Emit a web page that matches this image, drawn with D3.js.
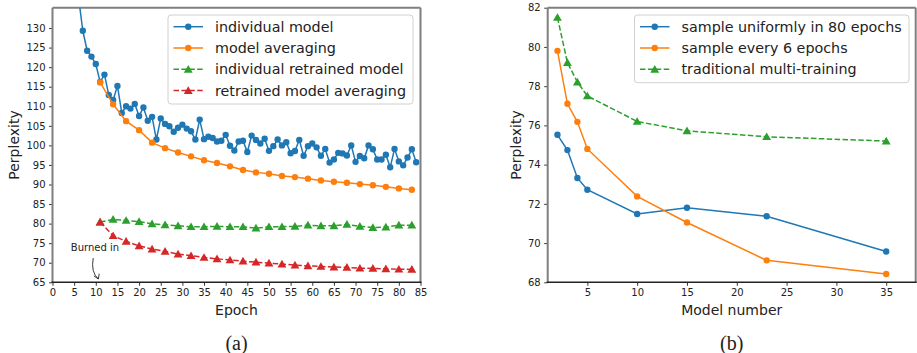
<!DOCTYPE html>
<html>
<head>
<meta charset="utf-8">
<script src="https://cdn.jsdelivr.net/npm/d3@7"></script>
<style>
body { margin: 0; background: #fff; }
text { font-family: 'DejaVu Sans', sans-serif; fill: #222; }
</style>
</head>
<body>
<svg id="fig" width="917" height="353"></svg>
<script>
// ---- data (a): perplexity per epoch
const epochs = [6,7,8,9,10,11,12,13,14,15,16,17,18,19,20,21,22,23,24,25,26,27,28,29,30,
  31,32,33,34,35,36,37,38,39,40,41,42,43,44,45,46,47,48,49,50,51,52,53,54,55,56,57,58,59,60,
  61,62,63,64,65,66,67,68,69,70,71,72,73,74,75,76,77,78,79,80,81,82,83,84]
const individual = [138,129.3,124.2,122.7,120.8,116.2,118.1,112.9,111.6,115.2,108.3,110.0,109.4,110.6,107.5,
  109.7,106.3,107.3,101.5,106.9,105.5,104.9,103.5,104.5,105.3,104.3,103.6,101.5,106.6,101.6,
  102.2,101.9,101.0,101.2,102.7,99.9,98.7,101.0,101.2,98.3,102.5,101.4,100.5,101.7,98.6,
  99.8,101.5,100.0,100.8,98.0,98.55,101.4,97.35,99.8,100.5,99.5,97.35,99.1,95.6,96.4,
  98.1,97.95,97.4,100.0,95.8,97.3,96.7,100.0,99.0,96.4,96.4,97.6,94.4,99.1,95.9,94.9,96.9,99.0,95.7]
const avgEpochs = [11,14,17,20,23,26,29,32,35,38,41,44,47,50,53,56,59,62,65,68,71,74,77,80,83]
const averaging = [116.1,110.5,106.2,103.9,100.7,99.3,98.2,97.2,96.2,95.5,94.65,93.7,93.1,92.75,92.2,
  91.9,91.5,91.05,90.7,90.45,90.1,89.8,89.4,89.0,88.65]
const retrained = [80.4,81.07,80.8,80.5,79.95,79.7,79.45,79.2,79.2,79.3,79.2,79.2,78.85,79.2,79.2,
  79.3,79.6,79.45,79.45,79.8,79.3,79.0,79.1,79.6,79.6]
const retrainedAvg = [80.4,76.9,75.45,74.3,73.5,72.9,72.2,71.8,71.35,71.0,70.7,70.4,70.15,69.9,69.65,
  69.4,69.2,69.05,68.9,68.8,68.6,68.55,68.45,68.35,68.3]
const epochTicks = [0,5,10,15,20,25,30,35,40,45,50,55,60,65,70,75,80,85]
const perpTicksA = [65,70,75,80,85,90,95,100,105,110,115,120,125,130]
const legendA = ['individual model', 'model averaging', 'individual retrained model', 'retrained model averaging']
// annotation: [text x, text y, arrow start x, arrow start y, arrow tip x, arrow tip y] in data units
const burnedIn = [9.8, 73.9, 9.4, 71.2, 10.6, 65.85]

// ---- data (b): perplexity per number of models
const modelNumbers = [2,3,4,5,10,15,23,35]
const uniform80 = [75.52,74.74,73.32,72.72,71.48,71.8,71.37,69.57]
const every6 = [79.8,77.1,76.18,74.8,72.38,71.05,69.12,68.42]
const multiTraining = [81.5,79.2,78.21,77.5,76.2,75.72,75.42,75.2]
const modelTicks = [5,10,15,20,25,30,35]
const perpTicksB = [68,70,72,74,76,78,80,82]
const legendB = ['sample uniformly in 80 epochs', 'sample every 6 epochs', 'traditional multi-training']

const blue = '#1f77b4', orange = '#ff7f0e', green = '#2ca02c', red = '#d62728'
const svg = d3.select('#fig')
const defs = svg.append('defs')

function panel (id, xDomain, xRange, yDomain, yRange, xTicks, yTicks, xLabel, yLabelX, caption)
{
    let x = d3.scaleLinear().domain(xDomain).range(xRange)
    let y = d3.scaleLinear().domain(yDomain).range(yRange)
    let g = svg.append('g')
    defs.append('clipPath').attr('id', id)
        .append('rect')
        .attr('x', xRange[0]).attr('y', yRange[1])
        .attr('width', xRange[1] - xRange[0]).attr('height', yRange[0] - yRange[1])
    //axes
    let xAxis = d3.axisBottom(x).tickValues(xTicks).tickSize(3.5).tickPadding(3.5)
    let yAxis = d3.axisLeft(y).tickValues(yTicks).tickSize(3.5).tickPadding(3.5)
    g.append('g').attr('transform', `translate(0, ${yRange[0]})`).call(xAxis)
    g.append('g').attr('transform', `translate(${xRange[0]}, 0)`).call(yAxis)
    g.selectAll('.domain').remove()
    g.selectAll('.tick line').attr('stroke', '#222').attr('stroke-width', 0.9)
    g.selectAll('.tick text').style('font-size', '10px').attr('fill', '#222')
        .style('font-family', "'DejaVu Sans', sans-serif")
    //spines
    let spines = g.append('g')
    spines.append('line').attr('x1', xRange[0]).attr('x2', xRange[1]).attr('y1', yRange[1]).attr('y2', yRange[1])
        .attr('stroke', '#7f7f7f').attr('stroke-width', 2)
    spines.append('line').attr('x1', xRange[0]).attr('x2', xRange[0]).attr('y1', yRange[0]).attr('y2', yRange[1])
        .attr('stroke', '#7f7f7f').attr('stroke-width', 2)
    spines.append('line').attr('x1', xRange[1]).attr('x2', xRange[1]).attr('y1', yRange[0]).attr('y2', yRange[1])
        .attr('stroke', '#7f7f7f').attr('stroke-width', 2)
    spines.append('line').attr('x1', xRange[0] - 1).attr('x2', xRange[1] + 1).attr('y1', yRange[0]).attr('y2', yRange[0])
        .attr('stroke', '#222').attr('stroke-width', 1.6)
    //labels
    let cx = (xRange[0] + xRange[1]) / 2
    g.append('text').attr('x', cx).attr('y', 315).attr('text-anchor', 'middle')
        .style('font-size', '14px').text(xLabel)
    g.append('text').attr('transform', `translate(${yLabelX}, ${(yRange[0] + yRange[1]) / 2}) rotate(-90)`)
        .attr('text-anchor', 'middle').style('font-size', '14px').text('Perplexity')
    g.append('text').attr('x', cx).attr('y', 350).attr('text-anchor', 'middle')
        .style('font-size', '20px').style('font-family', "'Liberation Serif', serif")
        .text(caption)
    let plot = g.append('g').attr('clip-path', `url(#${id})`)
    return {x: x, y: y, g: g, plot: plot}
}

function series (p, xs, ys, color, dashed, marker)
{
    let line = d3.line().x((d, i) => p.x(xs[i])).y(d => p.y(d))
    p.plot.append('path')
        .attr('d', line(ys))
        .attr('fill', 'none')
        .attr('stroke', color)
        .attr('stroke-width', 1.5)
        .attr('stroke-dasharray', dashed ? '5.5,2.4' : null)
    let sym = marker == 'tri' ? d3.symbol(d3.symbolTriangle, 34) : d3.symbol(d3.symbolCircle, 32)
    p.plot.selectAll(null)
        .data(ys)
        .enter()
        .append('path')
        .attr('transform', (d, i) => `translate(${p.x(xs[i])}, ${p.y(d) + (marker == 'tri' ? 0.8 : 0)})`)
        .attr('d', sym)
        .attr('fill', color)
}

function legend (p, box, labels, colors, dashes, markers)
{
    let lg = p.g.append('g')
    lg.append('rect')
        .attr('x', box[0]).attr('y', box[1]).attr('width', box[2]).attr('height', box[3])
        .attr('rx', 3).attr('fill', 'white').attr('fill-opacity', 0.8)
        .attr('stroke', '#d0d0d0').attr('stroke-width', 1)
    labels.forEach(function (lab, i) {
        let yy = box[1] + 11.7 + i * 21.3
        let x0 = box[0] + 5.5
        lg.append('line').attr('x1', x0).attr('x2', x0 + 29.5).attr('y1', yy).attr('y2', yy)
            .attr('stroke', colors[i]).attr('stroke-width', 1.5)
            .attr('stroke-dasharray', dashes[i] ? '5.5,2.4' : null)
        let sym = markers[i] == 'tri' ? d3.symbol(d3.symbolTriangle, 34) : d3.symbol(d3.symbolCircle, 32)
        lg.append('path').attr('d', sym)
            .attr('transform', `translate(${x0 + 14.75}, ${yy + (markers[i] == 'tri' ? 0.8 : 0)})`)
            .attr('fill', colors[i])
        lg.append('text').attr('x', x0 + 41.5).attr('y', yy).attr('dy', '0.36em')
            .style('font-size', '14.3px').text(lab)
    })
}

// ---- panel (a)
let pa = panel('clipA', [0, 85], [52.5, 420.5], [65, 135.2], [282.3, 7.7],
               epochTicks, perpTicksA, 'Epoch', 19, '(a)')
series(pa, epochs, individual, blue, false, 'circle')
series(pa, avgEpochs, averaging, orange, false, 'circle')
series(pa, avgEpochs, retrained, green, true, 'tri')
series(pa, avgEpochs, retrainedAvg, red, true, 'tri')
legend(pa, [168, 15, 245, 89], legendA, [blue, orange, green, red],
       [false, false, true, true], ['circle', 'circle', 'tri', 'tri'])

// annotation "Burned in"
pa.g.append('text')
    .attr('x', pa.x(burnedIn[0])).attr('y', pa.y(burnedIn[1])).attr('dy', '0.36em')
    .attr('text-anchor', 'middle').style('font-size', '10px').text('Burned in')
let ax0 = pa.x(burnedIn[2]), ay0 = pa.y(burnedIn[3])
let ax1 = pa.x(burnedIn[4]), ay1 = pa.y(burnedIn[5])
pa.g.append('path')
    .attr('d', `M${ax0},${ay0} Q${ax0 - 2.5},${(ay0 + ay1) / 2 + 4} ${ax1},${ay1}`)
    .attr('fill', 'none').attr('stroke', '#222').attr('stroke-width', 0.9)
pa.g.append('path')
    .attr('d', `M${ax1 - 4.5},${ay1 - 3} L${ax1},${ay1} L${ax1 + 0.8},${ay1 - 5.3}`)
    .attr('fill', 'none').attr('stroke', '#222').attr('stroke-width', 0.9)

// ---- panel (b)
let pb = panel('clipB', [1.02, 37.96], [547.7, 915.7], [68, 82], [282.3, 7.7],
               modelTicks, perpTicksB, 'Model number', 521, '(b)')
series(pb, modelNumbers, uniform80, blue, false, 'circle')
series(pb, modelNumbers, every6, orange, false, 'circle')
series(pb, modelNumbers, multiTraining, green, true, 'tri')
legend(pb, [634.5, 15, 274.5, 67.7], legendB, [blue, orange, green],
       [false, false, true], ['circle', 'circle', 'tri'])
</script>
</body>
</html>
